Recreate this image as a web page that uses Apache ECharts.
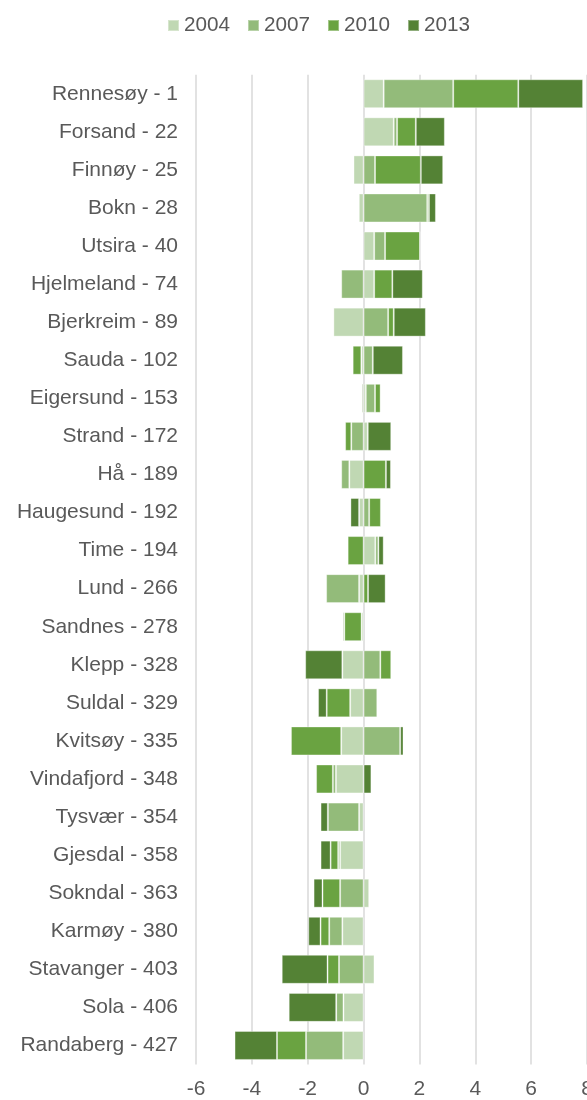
<!DOCTYPE html>
<html>
<head>
<meta charset="utf-8">
<script src="https://cdn.jsdelivr.net/npm/echarts@6/dist/echarts.min.js"></script>
<style>
html,body{margin:0;padding:0;background:#fff;}
#chart{width:587px;height:1100px;}
</style>
</head>
<body>
<div id="chart"></div>
<script>
const categories = ["Rennesøy - 1","Forsand - 22","Finnøy - 25","Bokn - 28","Utsira - 40","Hjelmeland - 74","Bjerkreim - 89","Sauda - 102","Eigersund - 153","Strand - 172","Hå - 189","Haugesund - 192","Time - 194","Lund - 266","Sandnes - 278","Klepp - 328","Suldal - 329","Kvitsøy - 335","Vindafjord - 348","Tysvær - 354","Gjesdal - 358","Sokndal - 363","Karmøy - 380","Stavanger - 403","Sola - 406","Randaberg - 427"];
const years = ["2004","2007","2010","2013"];
const v2004 = [0.72,1.08,-0.36,-0.17,0.38,0.38,-1.08,-0.08,0.08,0.15,-0.51,-0.16,0.42,-0.16,-0.07,-0.76,-0.48,-0.80,-0.99,-0.16,-0.84,0.20,-0.76,0.39,-0.72,-0.73];
const v2007 = [2.49,0.12,0.41,2.28,0.39,-0.80,0.88,0.33,0.33,-0.44,-0.29,0.20,0.11,-1.18,0,0.60,0.49,1.31,-0.11,-1.12,-0.07,-0.84,-0.47,-0.88,-0.26,-1.33];
const v2010 = [2.33,0.67,1.64,0.06,1.25,0.65,0.20,-0.31,0.20,-0.22,0.80,0.42,-0.57,0.16,-0.62,0.39,-0.84,-1.80,-0.60,0,-0.27,-0.63,-0.31,-0.41,0,-1.04];
const v2013 = [2.32,1.04,0.80,0.25,0,1.09,1.15,1.08,-0.05,0.84,0.18,-0.31,0.19,0.63,-0.05,-1.33,-0.31,0.12,0.28,-0.26,-0.36,-0.32,-0.44,-1.64,-1.70,-1.52];
const xTicks = [-6,8,2];
const colors = ["#c0d8b3","#93bb7a","#6aa341","#548235"];
const values = [v2004,v2007,v2010,v2013];

const chart = echarts.init(document.getElementById('chart'));
const font = "'Liberation Sans', Arial, sans-serif";
chart.setOption({
  animation:false,
  textStyle:{fontFamily:font},
  legend:{
    top:10,left:162,itemWidth:11,itemHeight:11,itemGap:17,
    icon:'rect',
    textStyle:{fontSize:20.7,color:'#595959',fontFamily:font}
  },
  grid:{left:196,right:0,top:74.7,bottom:35.5,containLabel:false,outerBoundsMode:'none'},
  xAxis:{
    type:'value',min:xTicks[0],max:xTicks[1],interval:xTicks[2],
    axisLine:{show:false},axisTick:{show:false},
    splitLine:{lineStyle:{color:'#d9d9d9',width:1.5}},
    axisLabel:{fontSize:21,color:'#595959',margin:14,fontFamily:font,hideOverlap:false}
  },
  yAxis:{
    type:'category',data:categories,inverse:true,
    axisLine:{show:false},axisTick:{show:false},
    axisLabel:{fontSize:21,color:'#595959',margin:18,fontFamily:font}
  },
  series: years.map((y,i)=>({
    name:y,type:'bar',stack:'total',data:values[i],
    barCategoryGap:'24%',
    itemStyle:{color:colors[i],borderColor:'rgba(255,255,255,0.35)',borderWidth:1}
  }))
});
</script>
</body>
</html>
